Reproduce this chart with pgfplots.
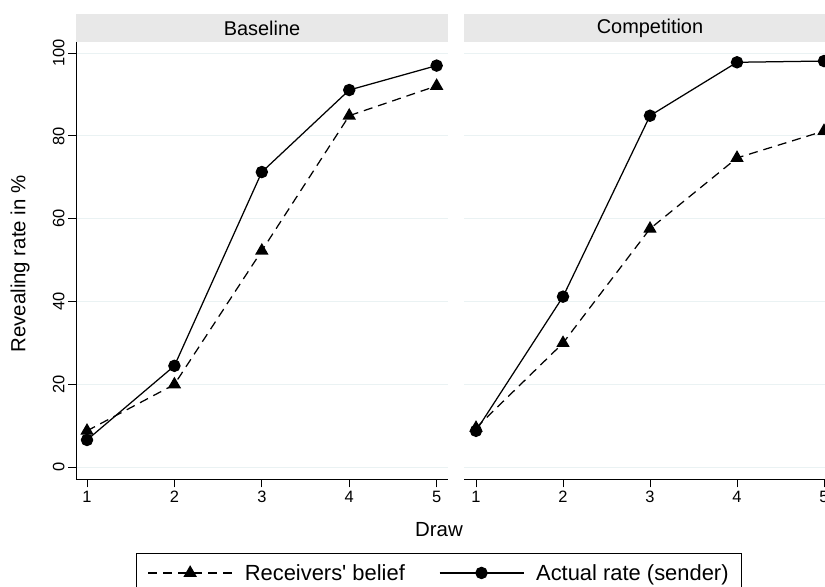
\documentclass[border=0pt]{standalone}
\usepackage{fontspec}
\setmainfont{Liberation Sans}
\usepackage{pgfplots}
\pgfplotsset{compat=1.18}
\definecolor{gridc}{RGB}{234,242,243}
\definecolor{stripc}{RGB}{232,232,232}
\begin{document}
\begin{tikzpicture}
\useasboundingbox (0,0) rectangle (825bp,587bp);
\pgfplotsset{
  panel/.style={
    scale only axis,
    height=437.3bp,
    ymin=-2.9, ymax=102.7,
    ytick={0,20,...,100}, xtick={1,2,3,4,5},
    ymajorgrids, major grid style={gridc, line width=1bp},
    axis x line*=bottom, axis y line*=left,
    axis line style={line width=1bp, -},
    tick align=outside, major tick length=8bp,
    tick style={black, line width=1bp},
    tick label style={font=\fontsize{16.5}{18}\selectfont},
    /pgf/number format/assume math mode=true,
    clip=false,
  },
  belief/.style={black, line width=1.25bp, dash pattern=on 9bp off 6bp, mark=triangle*, mark size=6.5bp, mark options={solid}},
  actual/.style={black, line width=1.25bp, mark=*, mark size=5.6bp, mark options={solid}},
}
% strips
\fill[stripc] (76bp,545bp) rectangle (448bp,573bp);
\fill[stripc] (464bp,545bp) rectangle (836bp,573bp);
\node[font=\fontsize{20}{24}\selectfont] at (262bp,559bp) {Baseline};
\node[font=\fontsize{20}{24}\selectfont] at (650bp,559bp) {Competition};

\begin{axis}[panel,
  at={(76bp,107.7bp)}, anchor=south west,
  width=372bp, xmin=0.874, xmax=5.13,
  yticklabel style={rotate=90, anchor=south},
  legend columns=2,
  legend style={at={(0.976,-0.168)}, anchor=north, draw=black, line width=1bp,
    font=\fontsize{22}{26}\selectfont, inner xsep=11bp, inner ysep=9bp,
    /tikz/every odd column/.append style={column sep=10bp},
    /tikz/every even column/.append style={column sep=32bp}},
  legend cell align=left,
  legend image code/.code={\draw[mark repeat=2,mark phase=2,#1] plot coordinates {(0bp,0bp) (42bp,0bp) (84bp,0bp)};},
]
\addplot[belief] coordinates {(1,8.8) (2,20.0) (3,52.3) (4,84.9) (5,92.1)};
\addlegendentry{Receivers\textquotesingle\ belief}
\addplot[actual] coordinates {(1,6.6) (2,24.5) (3,71.3) (4,91.1) (5,97.0)};
\addlegendentry{Actual rate (sender)}
\end{axis}

\begin{axis}[panel,
  at={(464bp,107.7bp)}, anchor=south west,
  width=361.3bp, xmin=0.862, xmax=5.015,
  yticklabels={}, y axis line style={draw=none},
  ytick style={draw=none},
]
\addplot[belief] coordinates {(1,9.5) (2,30.0) (3,57.6) (4,74.7) (5,81.2)};
\addplot[actual] coordinates {(1,8.8) (2,41.2) (3,84.9) (4,97.8) (5,98.1)};
\end{axis}

\node[rotate=90, font=\fontsize{20.5}{24}\selectfont] at (20bp,323bp) {Revealing rate in \%};
\node[font=\fontsize{20.5}{24}\selectfont] at (439bp,57bp) {Draw};
\end{tikzpicture}
\end{document}
